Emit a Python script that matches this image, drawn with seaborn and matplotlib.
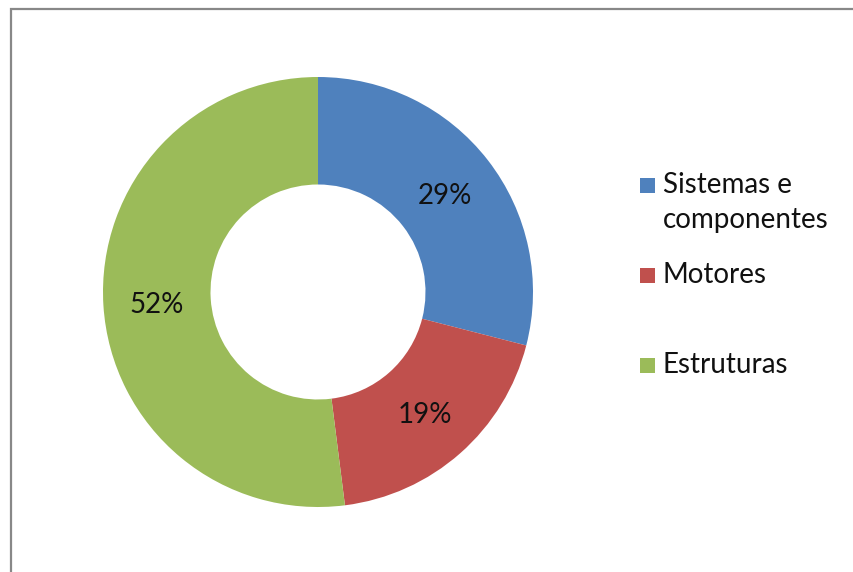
import matplotlib
matplotlib.use("Agg")
import matplotlib.pyplot as plt
from matplotlib.patches import Rectangle
import seaborn as sns

# Data
categories = ["Sistemas e\ncomponentes", "Motores", "Estruturas"]
shares = [29, 19, 52]
colors = ["#4F81BD", "#C0504D", "#9BBB59"]

sns.set_theme(style="white")
plt.rcParams["font.family"] = ["Lato", "DejaVu Sans"]

W, H = 854, 572
fig = plt.figure(figsize=(W / 100, H / 100), dpi=100)
fig.patch.set_facecolor("white")

def fx(px):
    return px / W

def fy(py):
    return 1 - py / H

# Donut
cx, cy, r = 318, 292, 215
ax = fig.add_axes([fx(cx - r), fy(cy + r), 2 * r / W, 2 * r / H])
wedges, texts, autotexts = ax.pie(
    shares,
    colors=colors,
    startangle=90,
    counterclock=False,
    radius=1.0,
    autopct="%1.0f%%",
    pctdistance=0.75,
    wedgeprops=dict(width=0.5, linewidth=0),
    textprops=dict(fontsize=20, color="#111111"),
)
for t in autotexts:
    t.set_verticalalignment("center_baseline")
ax.set_xlim(-1, 1)
ax.set_ylim(-1, 1)
ax.set_aspect("equal")
ax.axis("off")

# Legend
fs = 20
sq = 15
legend_rows = [(193, 193), (283, 283), (373, 373)]
for (sq_bottom, baseline), label, col in zip(legend_rows, categories, colors):
    fig.add_artist(Rectangle((fx(640), fy(sq_bottom)), sq / W, sq / H,
                             transform=fig.transFigure, facecolor=col,
                             edgecolor="none"))
    lines = label.split("\n")
    for i, line in enumerate(lines):
        fig.text(fx(663), fy(baseline + i * 35), line, fontsize=fs,
                 color="#111111", ha="left", va="baseline")

# Chart area border
fig.add_artist(Rectangle((fx(11), -0.05), 1.2, fy(9) + 0.05,
                         transform=fig.transFigure, facecolor="none",
                         edgecolor="#888888", linewidth=1.6))

fig.savefig("out.png", dpi=100, facecolor="white")
